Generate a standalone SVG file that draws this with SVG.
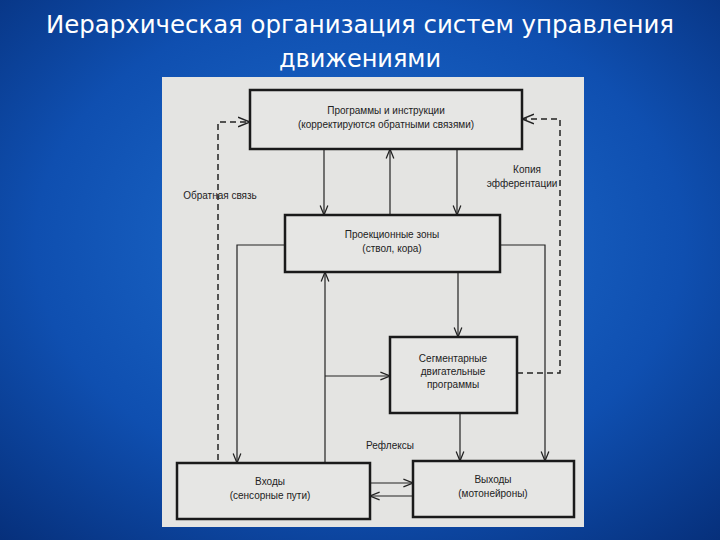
<svg xmlns="http://www.w3.org/2000/svg" width="720" height="540" viewBox="0 0 720 540">
<defs>
<radialGradient id="bg" cx="0.5" cy="0.45" r="0.75">
<stop offset="0" stop-color="#1f6fd0"/><stop offset="0.6" stop-color="#0f4fb0"/><stop offset="1" stop-color="#062f7a"/>
</radialGradient>
<marker id="a" viewBox="0 0 10 10" refX="10" refY="5" markerWidth="8" markerHeight="8" orient="auto-start-reverse"><path d="M0,1 L10,5 L0,9" fill="none" stroke="#222" stroke-width="1.3"/></marker>
<style>
.box{fill:#e6e6e4;stroke:#1a1a1a;stroke-width:2.5}
.t{font-family:"Liberation Sans",Arial,sans-serif;font-size:10px;fill:#222;text-anchor:middle}
.l{fill:none;stroke:#222;stroke-width:1.2}
.d{fill:none;stroke:#222;stroke-width:1.5;stroke-dasharray:6,4}
.title{font-family:"DejaVu Sans",sans-serif;font-size:24px;fill:#fff;text-anchor:middle}
</style>
</defs>
<rect width="720" height="540" fill="url(#bg)"/>
<text class="title" x="360" y="33" textLength="628" lengthAdjust="spacingAndGlyphs">Иерархическая организация систем управления</text>
<text class="title" x="360" y="67">движениями</text>
<rect x="162" y="77" width="422" height="450" fill="#e4e4e2"/>
<g id="connectors">
<path class="l" d="M324,149 V215" marker-end="url(#a)"/>
<path class="l" d="M457,149 V215" marker-end="url(#a)"/>
<path class="l" d="M390,215 V149" marker-end="url(#a)"/>
<path class="l" d="M285,245 H237 V463" marker-end="url(#a)"/>
<path class="l" d="M500,245 H545 V461" marker-end="url(#a)"/>
<path class="l" d="M325,463 V272" marker-end="url(#a)"/>
<path class="l" d="M325,376 H390" marker-end="url(#a)"/>
<path class="l" d="M458,272 V337" marker-end="url(#a)"/>
<path class="l" d="M460,413 V461" marker-end="url(#a)"/>
<path class="l" d="M370,483 H413" marker-end="url(#a)"/>
<path class="l" d="M413,496 H370" marker-end="url(#a)"/>
<path class="d" d="M218,460 V122 H250" marker-end="url(#a)"/>
<path class="d" d="M517,373 H560 V119 H522" marker-end="url(#a)"/>
<text class="t" x="220" y="199">Обратная связь</text>
<text class="t" x="527" y="173">Копия</text>
<text class="t" x="522" y="187">эфферентации</text>
<text class="t" x="390" y="449">Рефлексы</text>
</g>
<g id="programs"><rect class="box" x="250" y="90" width="272" height="59"/>
<text class="t" x="386" y="114">Программы и инструкции</text><text class="t" x="386" y="128">(корректируются обратными связями)</text></g>
<g id="projection"><rect class="box" x="285" y="215" width="215" height="57"/>
<text class="t" x="392" y="238">Проекционные зоны</text><text class="t" x="392" y="252">(ствол, кора)</text></g>
<g id="segmental"><rect class="box" x="390" y="337" width="127" height="76"/>
<text class="t" x="453" y="362">Сегментарные</text><text class="t" x="453" y="375">двигательные</text><text class="t" x="453" y="388">программы</text></g>
<g id="inputs"><rect class="box" x="177" y="463" width="193" height="56"/>
<text class="t" x="270" y="485">Входы</text><text class="t" x="270" y="499">(сенсорные пути)</text></g>
<g id="outputs"><rect class="box" x="413" y="461" width="161" height="56"/>
<text class="t" x="493" y="483">Выходы</text><text class="t" x="493" y="497">(мотонейроны)</text></g>
</svg>
